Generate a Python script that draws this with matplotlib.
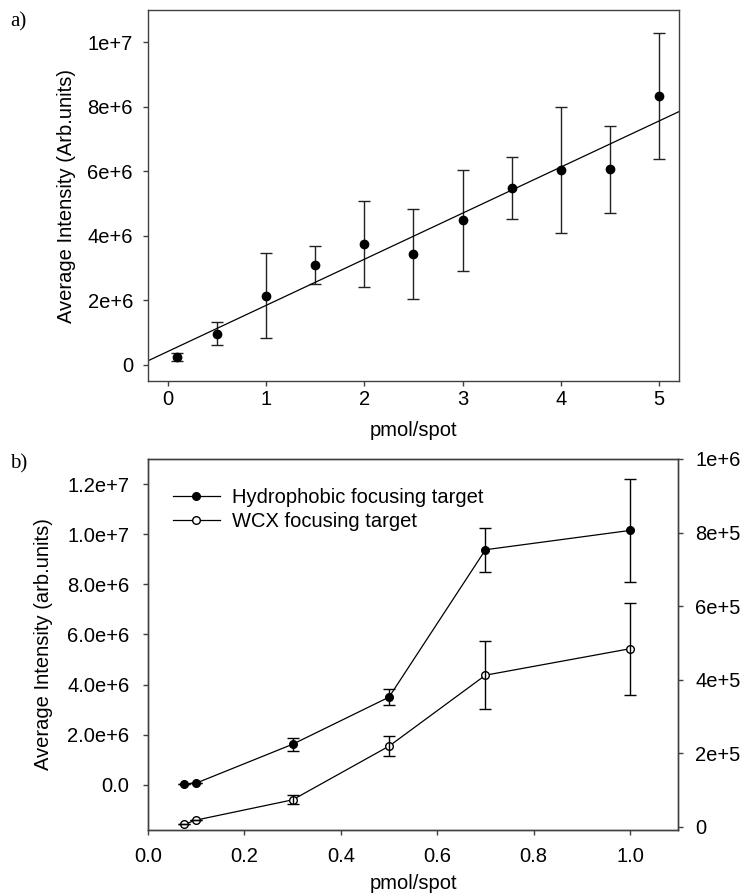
import numpy as np
import matplotlib
matplotlib.use("Agg")
import matplotlib.pyplot as plt

plt.rcParams['font.family'] = ['Liberation Sans', 'DejaVu Sans']
plt.rcParams['font.size'] = 14.5

# panel a: intensity vs amount
a_x = [0.1, 0.5, 1.0, 1.5, 2.0, 2.5, 3.0, 3.5, 4.0, 4.5, 5.0]
a_y = [0.25e6, 0.97e6, 2.14e6, 3.09e6, 3.74e6, 3.43e6, 4.48e6, 5.49e6, 6.03e6, 6.07e6, 8.33e6]
a_err = [0.12e6, 0.35e6, 1.32e6, 0.58e6, 1.33e6, 1.39e6, 1.57e6, 0.96e6, 1.95e6, 1.35e6, 1.95e6]
a_yticks = [0, 2e6, 4e6, 6e6, 8e6, 1e7]
a_yticklabels = ['0', '2e+6', '4e+6', '6e+6', '8e+6', '1e+7']

# panel b: two focusing targets
b_x = [0.075, 0.1, 0.3, 0.5, 0.7, 1.0]
hydro_y = [0.04e6, 0.07e6, 1.62e6, 3.50e6, 9.38e6, 10.15e6]
hydro_err = [0, 0, 0.25e6, 0.32e6, 0.88e6, 2.05e6]
wcx_y = [6.5e3, 18e3, 73e3, 219e3, 412e3, 484e3]
wcx_err = [0, 0, 12e3, 27e3, 92e3, 125e3]
b_yticks = [0, 2e6, 4e6, 6e6, 8e6, 1e7, 1.2e7]
b_yticklabels = ['0.0', '2.0e+6', '4.0e+6', '6.0e+6', '8.0e+6', '1.0e+7', '1.2e+7']
b_y2ticks = [0, 2e5, 4e5, 6e5, 8e5, 1e6]
b_y2ticklabels = ['0', '2e+5', '4e+5', '6e+5', '8e+5', '1e+6']

spine_col = '#404040'

fig = plt.figure(figsize=(7.44, 8.94), dpi=100)
ax1 = fig.add_axes([0.1989, 0.5738, 0.7137, 0.415])
ax2 = fig.add_axes([0.1989, 0.0716, 0.7128, 0.415])

def style(ax):
    for s in ax.spines.values():
        s.set_color(spine_col)
        s.set_linewidth(1.0)
    ax.tick_params(direction='out', length=3.8, width=1, color=spine_col)

# --- a ---
style(ax1)
ax1.errorbar(a_x, a_y, yerr=a_err, fmt='o', color='black', ms=6,
             ecolor='#222222', elinewidth=1, capsize=4.5, capthick=1)
slope, icpt = np.polyfit(a_x, a_y, 1)
xl = np.array([-0.2, 5.2])
ax1.plot(xl, slope * xl + icpt, color='black', lw=0.9)
ax1.set_xlim(-0.2, 5.2)
ax1.set_ylim(-0.5e6, 11e6)
ax1.set_xticks([0, 1, 2, 3, 4, 5])
ax1.set_yticks(a_yticks)
ax1.set_yticklabels(a_yticklabels)
ax1.tick_params(axis='y', pad=7)
ax1.tick_params(axis='x', pad=3)
ax1.set_xlabel('pmol/spot', labelpad=8)
ax1.set_ylabel('Average Intensity (Arb.units)', labelpad=8)

# --- b ---
style(ax2)
ax3 = ax2.twinx()
style(ax3)
l1, = ax2.plot(b_x, hydro_y, '-o', color='black', ms=5.5, lw=0.9,
               label='Hydrophobic focusing target')
ax2.errorbar(b_x, hydro_y, yerr=hydro_err, fmt='none', ecolor='black',
             elinewidth=1, capsize=4.5, capthick=1)
l2, = ax3.plot(b_x, wcx_y, '-o', color='black', mfc='white', ms=5.5, lw=0.9,
               label='WCX focusing target')
ax3.errorbar(b_x, wcx_y, yerr=wcx_err, fmt='none', ecolor='black',
             elinewidth=1, capsize=4.5, capthick=1)
ax2.set_xlim(0, 1.1)
ax2.set_ylim(-1.8e6, 1.3e7)
ax3.set_ylim(-0.9e4, 1e6)
ax2.set_xticks([0.0, 0.2, 0.4, 0.6, 0.8, 1.0])
ax2.set_xticklabels(['0.0', '0.2', '0.4', '0.6', '0.8', '1.0'])
ax2.set_yticks(b_yticks)
ax2.set_yticklabels(b_yticklabels)
ax3.set_yticks(b_y2ticks)
ax3.set_yticklabels(b_y2ticklabels)
ax2.tick_params(axis='y', pad=9.5)
ax3.tick_params(axis='y', pad=8.5)
ax2.tick_params(axis='x', pad=8.5)
ax2.set_xlabel('pmol/spot', labelpad=6)
ax2.set_ylabel('Average Intensity (arb.units)', labelpad=10)
ax3.legend(handles=[l1, l2], loc='upper left', bbox_to_anchor=(0.047, 0.922),
           frameon=False, handlelength=2.33, handletextpad=0.58,
           labelspacing=0.27, borderaxespad=0, borderpad=0)

fig.text(10 / 744, 1 - 12 / 894, 'a)', family='Liberation Serif', fontsize=15,
         va='top', ha='left')
fig.text(10 / 744, 1 - 454 / 894, 'b)', family='Liberation Serif', fontsize=15,
         va='top', ha='left')

fig.savefig('out.png', dpi=100)
